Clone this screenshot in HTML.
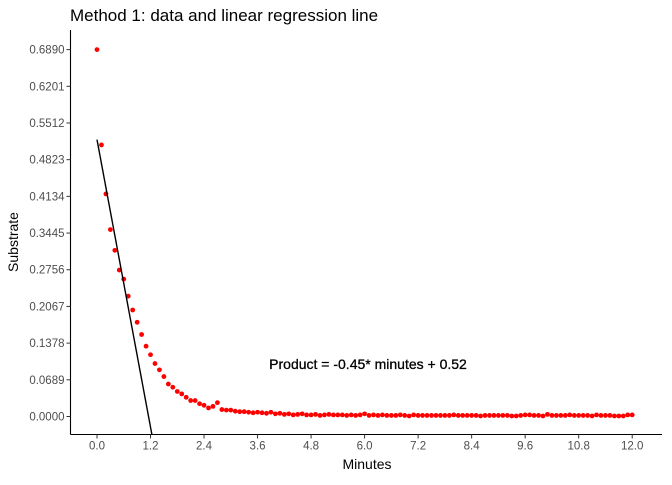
<!DOCTYPE html>
<html><head><meta charset="utf-8"><style>
body{margin:0;background:#fff;font-family:"Liberation Sans",sans-serif}
</style></head><body>
<svg id="chart" width="672" height="480" xmlns="http://www.w3.org/2000/svg" font-family="Liberation Sans, sans-serif">
<text x="70" y="21" font-size="17" fill="#000">Method 1: data and linear regression line</text>
<g id="plot"></g>
<text x="367" y="469" font-size="14" text-anchor="middle">Minutes</text>
<text transform="translate(18,242) rotate(-90)" font-size="14" text-anchor="middle">Substrate</text>
<text x="368" y="369" font-size="14" text-anchor="middle" fill="#000" stroke="#000" stroke-width="0.3">Product = -0.45* minutes + 0.52</text>
</svg>
<script>
const xTicks=[0,1.2,2.4,3.6,4.8,6.0,7.2,8.4,9.6,10.8,12.0];
const yTicks=[0,0.0689,0.1378,0.2067,0.2756,0.3445,0.4134,0.4823,0.5512,0.6201,0.6890];
const substrate=[0.689,0.510,0.418,0.351,0.312,0.275,0.258,0.226,0.200,0.177,0.154,0.132,0.116,0.0995,0.0876,0.075,0.061,0.055,0.047,0.0425,0.036,0.030,0.030,0.024,0.021,0.016,0.019,0.026,0.013,0.012,0.012,0.010,0.009,0.009,0.008,0.007,0.008,0.007,0.006,0.008,0.005,0.006,0.004,0.005,0.003,0.004,0.005,0.003,0.003,0.004,0.002,0.003,0.004,0.003,0.003,0.003,0.002,0.003,0.002,0.003,0.005,0.002,0.003,0.002,0.003,0.002,0.002,0.002,0.003,0.002,0.001,0.003,0.002,0.002,0.002,0.002,0.002,0.002,0.002,0.002,0.003,0.002,0.002,0.002,0.002,0.002,0.001,0.002,0.002,0.002,0.002,0.002,0.002,0.001,0.001,0.002,0.003,0.003,0.002,0.002,0.001,0.004,0.002,0.002,0.002,0.002,0.003,0.002,0.002,0.002,0.002,0.001,0.003,0.002,0.002,0.002,0.001,0.001,0.001,0.003,0.003];
const slope=-0.45, intercept=0.52;
const X=v=>97+v*44.6, Y=v=>416.5-v*532.5;
const L=70.5,B=434.5,T=30,R=662;
const g=document.getElementById('plot');
const ns='http://www.w3.org/2000/svg';
function mk(t,a){const e=document.createElementNS(ns,t);for(const k in a)e.setAttribute(k,a[k]);g.appendChild(e);return e;}
let e;
e=mk('line',{x1:L,y1:T,x2:L,y2:B,stroke:'#000','stroke-width':1.1});


e=mk('line',{x1:L,y1:B,x2:R,y2:B,stroke:'#000','stroke-width':1.1});


xTicks.forEach(v=>{
 mk('line',{x1:X(v),y1:B,x2:X(v),y2:B+4,stroke:'#333'});
 e=mk('text',{x:X(v),y:B+15,'font-size':11.5,fill:'#4d4d4d','text-anchor':'middle'});
 e.textContent=v.toFixed(1);
 
 
});
yTicks.forEach(v=>{
 mk('line',{x1:L-4,y1:Y(v),x2:L,y2:Y(v),stroke:'#333'});
 e=mk('text',{x:L-6,y:Y(v)+4,'font-size':11.5,fill:'#4d4d4d','text-anchor':'end'});
 e.textContent=v.toFixed(4);
 
 
});
substrate.forEach((v,i)=>{
 e=mk('circle',{cx:X(i*0.1),cy:Y(v),r:2.4,fill:'#ff0000'});
 
 
});
const yMin=(416.5-B)/532.5;
const xEnd=(yMin-intercept)/slope;
e=mk('line',{x1:X(0),y1:Y(intercept),x2:X(xEnd),y2:Y(yMin),stroke:'#000','stroke-width':1.4});


</script>
</body></html>
